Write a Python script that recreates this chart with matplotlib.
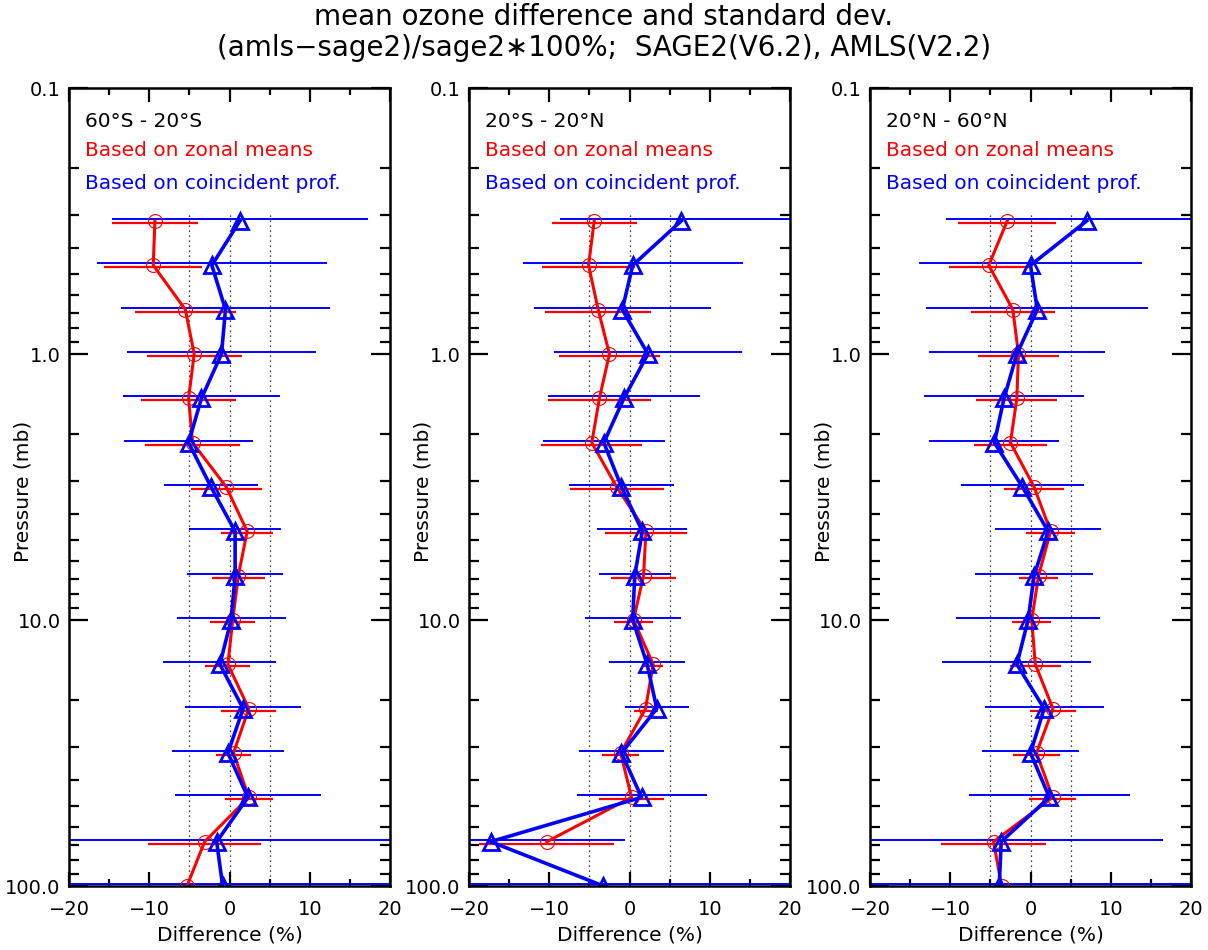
import numpy as np
import matplotlib
matplotlib.use('Agg')
import matplotlib.pyplot as plt
import matplotlib.ticker as mticker

# pressure levels (mb)
pressure = [0.316, 0.464, 0.681, 1.0, 1.468, 2.154, 3.162, 4.642, 6.813,
            10.0, 14.68, 21.54, 31.62, 46.42, 68.13, 100.0]

region_names = ['60°S - 20°S', '20°S - 20°N', '20°N - 60°N']

# 60S-20S
zonal_mean_s = [-9.3, -9.5, -5.5, -4.4, -5.1, -4.6, -0.4, 2.2, 1.1, 0.4, -0.2, 2.4, 0.5, 2.4, -3.1, -5.3]
zonal_sd_s = [5.4, 6.1, 6.3, 5.9, 5.9, 5.9, 4.4, 3.2, 3.3, 2.8, 2.8, 3.4, 2.2, 3.0, 7.0, 7.0]
coinc_mean_s = [1.3, -2.2, -0.5, -1.0, -3.5, -5.1, -2.3, 0.7, 0.7, 0.2, -1.2, 1.7, -0.2, 2.3, -1.6, -0.85]
coinc_sd_s = [16.0, 14.3, 13.0, 11.8, 9.75, 8.0, 5.8, 5.75, 6.0, 6.8, 7.05, 7.2, 7.0, 9.1, 25.0, 30.0]

# 20S-20N
zonal_mean_t = [-4.4, -5.1, -3.9, -2.5, -3.75, -4.7, -1.6, 2.05, 1.75, 0.5, 2.95, 2.0, -1.1, 0.25, -10.3, np.nan]
zonal_sd_t = [5.3, 5.8, 6.6, 6.25, 6.4, 6.3, 5.85, 5.15, 4.1, 2.45, 1.25, 1.5, 2.3, 4.0, 8.4, np.nan]
coinc_mean_t = [6.45, 0.4, -0.9, 2.3, -0.7, -3.2, -1.0, 1.6, 0.65, 0.4, 2.2, 3.4, -1.0, 1.5, -17.3, -3.25]
coinc_sd_t = [15.1, 13.7, 11.0, 11.7, 9.45, 7.6, 6.6, 5.6, 4.5, 6.0, 4.7, 4.0, 5.35, 8.1, 16.8, 30.0]

# 20N-60N
zonal_mean_n = [-2.9, -5.2, -2.2, -1.5, -1.7, -2.5, 0.45, 2.5, 1.0, 0.15, 0.6, 2.8, 0.75, 2.75, -4.6, -3.6]
zonal_sd_n = [6.1, 5.0, 5.2, 5.0, 5.05, 4.5, 3.75, 3.1, 2.4, 2.4, 3.2, 2.9, 2.95, 2.9, 6.5, 6.5]
coinc_mean_n = [7.0, 0.0, 0.85, -1.7, -3.3, -4.5, -1.0, 2.2, 0.45, -0.3, -1.7, 1.7, 0.0, 2.35, -3.65, -3.9]
coinc_sd_n = [17.5, 13.9, 13.85, 11.0, 10.0, 8.1, 7.7, 6.6, 7.4, 8.95, 9.3, 7.4, 6.1, 10.0, 20.2, 30.0]

zonal_means = [zonal_mean_s, zonal_mean_t, zonal_mean_n]
zonal_sds = [zonal_sd_s, zonal_sd_t, zonal_sd_n]
coinc_means = [coinc_mean_s, coinc_mean_t, coinc_mean_n]
coinc_sds = [coinc_sd_s, coinc_sd_t, coinc_sd_n]

p = np.array(pressure)
shift = 1.018  # small vertical offset between red and blue bars

fig = plt.figure(figsize=(12.08, 9.5), dpi=100)
fig.text(0.5, 0.982, 'mean ozone difference and standard dev.', ha='center', va='center', fontsize=20)
fig.text(0.5, 0.949, '(amls\u2212sage2)/sage2\u2217100%;  SAGE2(V6.2), AMLS(V2.2)',
         ha='center', va='center', fontsize=20)

lefts = [69, 469, 870]
for i in range(3):
    ax = fig.add_axes([lefts[i] / 1208, 64 / 950, 321 / 1208, 798 / 950])
    zm = np.array(zonal_means[i]); zs = np.array(zonal_sds[i])
    cm = np.array(coinc_means[i]); cs = np.array(coinc_sds[i])

    # dotted reference lines
    ax.vlines([-5, 0, 5], 0.3, 100, colors='black', linestyles=(0, (1, 3)), lw=0.9)

    # error bars
    ax.hlines(p * shift, zm - zs, zm + zs, colors='red', lw=1.6)
    ax.hlines(p / shift, cm - cs, cm + cs, colors='blue', lw=1.4)

    ax.plot(zm, p, color='red', lw=2.2, marker='o', ms=10, mfc='none', mec='red', mew=0.8)
    ax.plot(cm, p, color='blue', lw=2.6, marker='^', ms=11, mfc='none', mec='blue', mew=2)

    ax.set_yscale('log')
    ax.set_ylim(100, 0.1)
    ax.set_xlim(-20, 20)
    ax.yaxis.set_major_locator(mticker.FixedLocator([0.1, 1, 10, 100]))
    ax.yaxis.set_major_formatter(mticker.FixedFormatter(['0.1', '1.0', '10.0', '100.0']))
    ax.yaxis.set_minor_locator(mticker.LogLocator(subs=np.arange(2, 10)))
    ax.yaxis.set_minor_formatter(mticker.NullFormatter())
    ax.xaxis.set_major_locator(mticker.FixedLocator([-20, -10, 0, 10, 20]))
    ax.xaxis.set_minor_locator(mticker.FixedLocator([-15, -5, 5, 15]))
    ax.set_xticklabels(['\u221220', '\u221210', '0', '10', '20'])
    ax.tick_params(which='both', direction='in', top=True, right=True, width=1.6, labelsize=14)
    ax.tick_params(axis='x', which='major', length=10, pad=10)
    ax.tick_params(axis='x', which='minor', length=5)
    ax.tick_params(axis='y', which='major', length=14, pad=6)
    ax.tick_params(axis='y', which='minor', length=7)
    for s in ax.spines.values():
        s.set_linewidth(1.8)

    ax.set_xlabel('Difference (%)', fontsize=14.5)
    ax.xaxis.set_label_coords(0.5, -0.049)
    ax.set_ylabel('Pressure (mb)', fontsize=14.5)
    ax.yaxis.set_label_coords(-0.114, 0.495)

    ax.text(0.05, 0.958, region_names[i], transform=ax.transAxes, fontsize=14.5, va='center')
    ax.text(0.05, 0.922, 'Based on zonal means', transform=ax.transAxes, fontsize=14.5,
            color='red', va='center')
    ax.text(0.05, 0.880, 'Based on coincident prof.', transform=ax.transAxes, fontsize=14.5,
            color='blue', va='center')

fig.savefig('out.png', dpi=100)
